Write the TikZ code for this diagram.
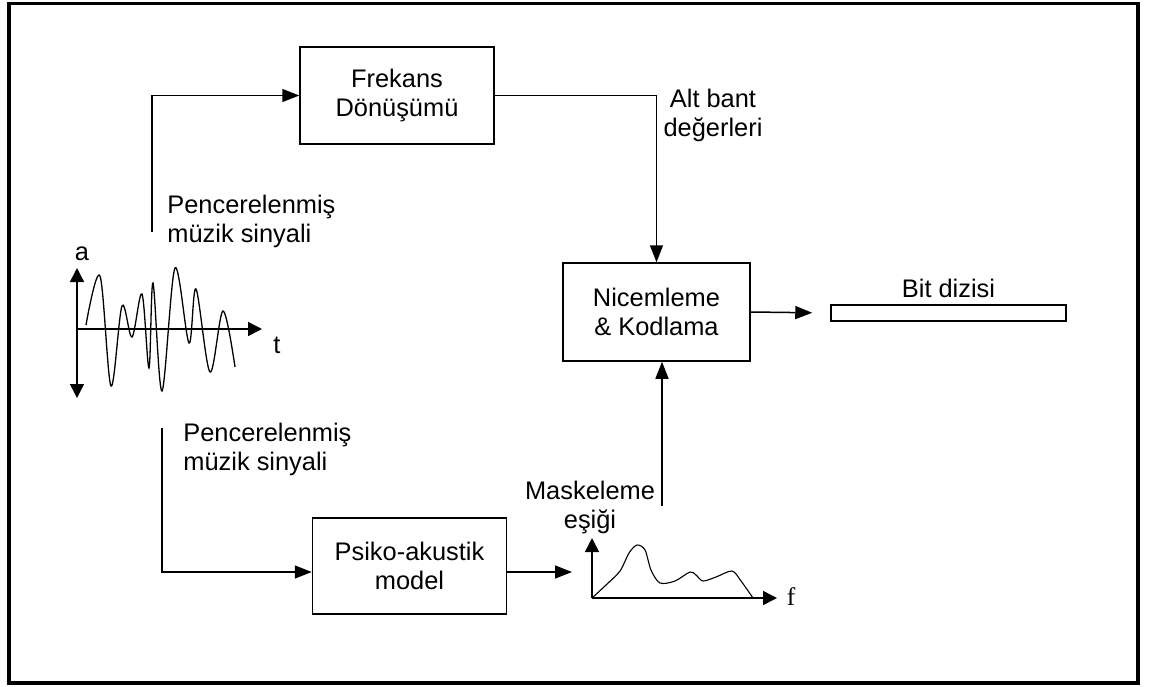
\documentclass[tikz,border=0pt]{standalone}
\usepackage{fontspec}
\setmainfont{Liberation Sans}
\newfontfamily\seriffont{Liberation Serif}
\usetikzlibrary{positioning, arrows.meta}

\begin{document}
\begin{tikzpicture}[
        x=0.5pt, y=-0.5pt,
        font=\fontsize{12.7}{14.5}\selectfont,
        line/.style={-{Triangle[length=8.5pt, width=6.5pt]}, line width=0.75pt},
        axis/.style={{Triangle[length=7pt, width=7pt]}-{Triangle[length=7pt, width=7pt]}, line width=0.75pt},
        block/.style={draw, line width=0.75pt, align=center, minimum width=97pt, minimum height=48.5pt},
        lbl/.style={align=center, inner sep=0pt}
    ]

    \useasboundingbox (0,0) rectangle (1150,686);
    \draw[line width=1.8pt] (9,3.5) rectangle (1138,683);

    \node[block] (freq) at (397,95.5) {Frekans\\Dönüşümü};
    \node[block, minimum width=93.5pt, minimum height=49pt] (nic) at (656.5,312) {Nicemleme\\\& Kodlama};
    \node[block, minimum height=48pt] (psy) at (409.5,566) {Psiko-akustik\\model};
    \node[draw, line width=0.75pt, minimum width=117.5pt, minimum height=8pt, inner sep=0pt] (bit) at (948.5,313) {};
    \node[lbl, above=3pt of bit] (bitlbl) {Bit dizisi};

    \node[lbl, align=left, anchor=north west] (winup) at (167,195) {Pencerelenmiş\\müzik sinyali};
    \node[lbl, align=left, anchor=north west] (windown) at (183,423) {Pencerelenmiş\\müzik sinyali};
    \node[lbl] (subband) at (713,115) {Alt bant\\değerleri};
    \node[lbl] (mask) at (590,507) {Maskeleme\\eşiği};

    % windowed signal
    \coordinate (worig) at (77,329);
    \draw[axis] (77,398) -- (77,268);
    \draw[-{Triangle[length=7pt, width=7pt]}, line width=0.75pt] (worig) -- (262,329);
    \node[lbl] (alabel) at (82,254) {a};
    \node[lbl] (tlabel) at (277,345) {t};
    \draw[line width=0.65pt] plot[smooth, tension=0.55] coordinates {
        (86,325) (100,276) (111,386) (122,306) (132,337) (142,294) (149,368)
        (153,283) (162,391) (175,268) (189,343) (196,289) (210,372) (223,311) (235,367)};

    % masking threshold
    \coordinate (sorig) at (592,598);
    \draw[-{Triangle[length=7pt, width=7pt]}, line width=0.75pt] (sorig) -- (592,538);
    \draw[-{Triangle[length=7pt, width=7pt]}, line width=0.75pt] (sorig) -- (777,598);
    \node[lbl, font=\fontsize{12.7}{14.5}\seriffont] (flabel) at (791,597) {f};
    \draw[line width=0.55pt] plot[smooth, tension=0.5] coordinates {
        (592,598) (606,585) (620,571) (629,553) (637,545) (645,550) (651,570)
        (660,583) (675,581) (690,572) (696,575) (703,581) (716,577) (732,571)
        (741,581) (753,598)};

    % connections
    \coordinate (upin) at (152,232);
    \coordinate (downin) at (162,428);
    \coordinate (specin) at (572,572);
    \coordinate (maskup) at (662,506);

    \draw[line] (upin) |- (freq.west);
    \draw[line] (freq.east) -| (nic.north);
    \draw[line, shorten >=9pt] (nic.east) -- (bit.west);
    \draw[line] (downin) |- (psy.west |- specin);
    \draw[line] (psy.east |- specin) -- (specin);
    \draw[line] (maskup) -- (maskup |- nic.south);

\end{tikzpicture}
\end{document}
